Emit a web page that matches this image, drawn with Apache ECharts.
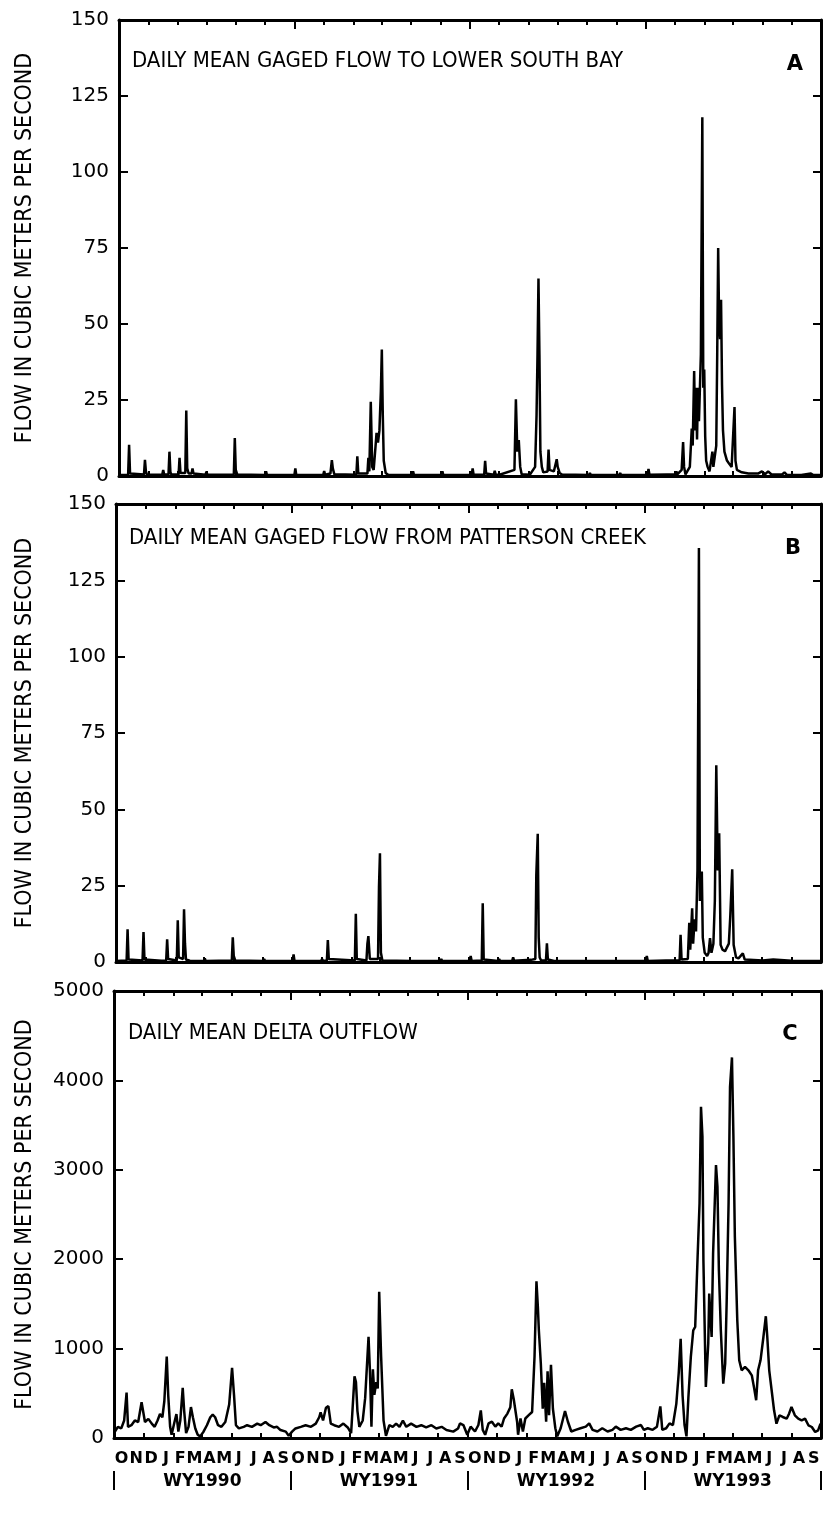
<!DOCTYPE html>
<html><head><meta charset="utf-8">
<script src="https://cdn.jsdelivr.net/npm/echarts@6/dist/echarts.min.js"></script>
<style>html,body{margin:0;padding:0;background:#fff}#c{width:825px;height:1513px}</style>
</head><body><div id="c"></div>
<script>
// ---------- labels ----------
const monthLetters = ['O','N','D','J','F','M','A','M','J','J','A','S'];
const waterYears = ['WY1990','WY1991','WY1992','WY1993'];
const panelTitles = ['DAILY MEAN GAGED FLOW TO LOWER SOUTH BAY','DAILY MEAN GAGED FLOW FROM PATTERSON CREEK','DAILY MEAN DELTA OUTFLOW'];
const panelLetters = ['A','B','C'];
const yTitle = 'FLOW IN CUBIC METERS PER SECOND';
const yTicksAB = [0,25,50,75,100,125,150];
const yTicksC = [0,1000,2000,3000,4000,5000];

// ---------- data: [day since 1 Oct 1989, flow m3/s] ----------
const flowA = [[0,0.3],[19,0.4],[21,10.3],[23,0.8],[25,0.4],
[52,0.5],[54,5.3],[56,1.5],[58,0.5],[90,0.4],[92,2],[94,0.5],
[103,0.5],[105,8],[107,1.2],[109,0.5],[124,0.5],[126,6],[128,1],
[138,1],[140,21.5],[142,2.5],[145,0.8],[151,0.8],[153,2.5],[155,0.8],
[180,0.4],[182,1.4],[184,0.4],[239,0.5],[241,12.5],[243,2],[246,0.5],
[304,0.3],[306,1.5],[308,0.3],[365,0.3],[367,2.5],[369,0.3],
[425,0.3],[427,1.6],[429,0.4],[440,0.8],[443,5.2],[445,2.5],[448,0.6],
[494,0.4],[496,6.5],[498,0.8],
[517,0.8],[519,6],[521,1.5],[524,24.4],[527,3],[530,2],[534,10],[536,14.2],[539,11],[542,15],[545,28],[547,41.6],[549,20],[551,5],[555,1],[560,0.4],
[610,0.3],[612,1.5],[614,0.3],[671,0.3],[673,1.5],[675,0.3],
[734,0.3],[736,2.5],[738,0.4],[760,0.4],[762,5],[764,0.8],
[780,0.4],[782,1.7],[784,0.5],[792,0.4],[794,1],[796,0.4],
[823,2],[826,25.2],[829,8],[832,11.8],[835,3],[838,0.6],
[855,0.4],[857,1],[859,0.4],
[866,3],[869,20],[871,40],[873,65],[875,40],[877,8],[880,3],[883,1.2],
[892,1.5],[894,8.7],[896,2],[905,1.5],[909,1.5],[911,5.5],[913,3],[917,1],[922,0.5],
[978,0.3],[980,1],[982,0.3],[1041,0.3],[1043,1],[1045,0.3],
[1100,0.4],[1102,2.3],[1104,0.4],[1140,0.5],[1158,0.5],[1160,1.5],[1162,0.5],
[1171,2],[1174,11.2],[1176,3],[1179,0.5],
[1188,3],[1192,15.6],[1194,10],[1197,34.5],[1199,15],[1201,29],[1203,12],[1205,29],[1207,18],[1209,29],[1211,40],[1214,118],[1216,29],[1218,35],[1220,13],[1222,5],[1225,3],[1229,1.5],[1232,2],[1235,8],[1237,3],[1240,2.5],
[1243,10],[1245,40],[1247,75],[1249,50],[1251,45],[1253,58],[1255,30],[1257,15],[1260,8],[1265,5.2],[1270,4],[1275,3],[1279,3],[1281,22.7],[1283,5],[1286,2],[1290,1.5],[1296,1.2],
[1310,0.8],[1330,0.8],[1338,1.5],[1345,0.6],[1351,1.5],[1358,0.5],[1380,0.5],[1385,1.2],[1390,0.4],[1420,0.3],[1440,0.8],[1445,0.3],[1461,0.3]];

const flowB = [[0,0.3],[22,0.5],[24,10.7],[26,0.8],[28,0.4],
[55,0.5],[57,9.8],[59,0.8],[94,0.4],[96,1],[98,0.4],
[104,0.5],[106,7.4],[108,1],[126,0.5],[128,13.7],[130,1.5],
[139,1],[141,17.3],[143,6],[145,0.8],[153,0.4],[155,0.8],[157,0.3],
[182,0.3],[184,1.2],[186,0.3],[240,0.5],[242,8.1],[244,2],[247,0.5],
[305,0.3],[307,1],[309,0.3],[366,0.3],[368,2.5],[370,0.3],
[425,0.3],[427,1],[429,0.3],[437,0.5],[439,7.2],[441,1],
[495,0.5],[497,15.8],[499,1],[519,0.5],[521,6],[523,8.5],[526,1],
[543,1],[545,24.7],[547,35.6],[549,3],[552,0.5],
[611,0.3],[613,0.7],[615,0.3],[672,0.3],[674,1],[676,0.3],
[733,0.3],[735,2],[737,0.3],[758,0.5],[760,19.2],[762,0.8],
[792,0.3],[794,1],[796,0.3],[821,0.4],[823,1.5],[825,0.4],
[860,0.7],[869,1],[871,28.5],[874,42],[876,8],[878,1.5],[881,0.5],
[891,0.5],[893,6.1],[895,0.8],[908,0.3],[910,0.8],[912,0.3],
[976,0.3],[978,0.7],[980,0.3],[1038,0.3],[1040,0.7],[1042,0.3],
[1098,0.3],[1100,2],[1102,0.3],[1140,0.5],[1168,0.5],[1170,8.9],[1172,0.8],
[1185,1],[1188,12.8],[1190,4],[1194,17.6],[1196,6],[1199,14],[1202,10],[1205,30],[1208,135.6],[1210,20],[1214,29.6],[1216,8],[1220,3],[1225,2],[1228,3],[1231,7.8],[1234,3],
[1238,6],[1241,20],[1244,64.4],[1247,30],[1250,42.2],[1253,5.6],[1257,4],[1262,3.5],[1266,4],[1270,6],[1273,15],[1277,30.4],[1280,5.6],[1285,1.5],[1290,1.2],[1299,2.8],[1303,0.8],
[1340,0.5],[1362,0.8],[1400,0.4],[1461,0.3]];

const flowC = [[0,54],[8,125],[15,107],[21,196],[26,507],[29,125],[36,143],[43,196],[50,179],[57,400],[60,304],[64,179],[71,214],[78,161],[84,125],[90,196],[95,268],[100,232],[104,411],[109,911],[112,482],[116,125],[119,36],[125,179],[129,268],[133,71],[137,196],[142,561],[145,304],[149,54],[154,125],[159,346],[163,232],[168,107],[173,36],[178,18],[185,71],[192,143],[199,232],[204,261],[209,232],[215,143],[222,125],[230,179],[238,375],[244,786],[248,482],[252,143],[258,107],[268,125],[275,143],[285,125],[296,161],[303,143],[313,179],[321,143],[330,118],[337,125],[344,89],[355,71],[361,25],
[368,71],[375,107],[386,125],[396,143],[407,125],[417,161],[424,232],[427,286],[432,196],[438,339],[443,357],[448,161],[455,143],[465,125],[474,161],[483,118],[490,54],[497,689],[500,625],[503,304],[507,125],[514,196],[519,446],[526,1132],[529,732],[532,125],[535,768],[538,482],[542,625],[545,554],[548,1636],[552,911],[557,196],[562,25],[569,143],[576,125],[583,161],[590,125],[597,196],[604,125],[614,161],[625,125],[635,143],[645,118],[656,143],[666,107],[677,125],[687,89],[701,71],[711,107],[715,164],[722,145],
[730,36],[737,127],[746,73],[753,145],[758,309],[762,91],[767,36],[774,164],[781,182],[788,127],[794,164],[801,127],[806,218],[813,273],[819,345],[822,545],[826,436],[829,455],[833,182],[835,36],[840,218],[845,73],[850,218],[857,255],[864,291],[869,909],[873,1753],[876,1455],[878,1200],[882,836],[886,327],[889,618],[893,182],[896,745],[899,255],[903,818],[907,327],[912,109],[916,18],[923,109],[932,302],[938,182],[945,73],[954,91],[964,109],[975,127],[982,164],[989,91],[999,73],[1009,109],[1020,73],[1030,91],[1037,127],[1047,91],[1058,109],[1068,91],[1079,127],[1089,145],[1095,91],
[1103,109],[1113,91],[1122,127],[1129,353],[1133,91],[1141,109],[1148,164],[1155,145],[1162,382],[1167,727],[1171,1109],[1175,473],[1179,145],[1183,18],[1187,459],[1192,907],[1197,1205],[1201,1242],[1206,2026],[1210,2623],[1213,3705],[1216,3370],[1218,1989],[1221,1130],[1223,571],[1228,1056],[1230,1616],[1235,1130],[1238,2063],[1244,3052],[1247,2810],[1250,1877],[1254,1205],[1259,608],[1263,832],[1266,1504],[1270,2623],[1273,3929],[1277,4257],[1280,3370],[1283,2250],[1288,1317],[1292,869],[1297,757],[1304,795],[1311,757],[1318,701],[1323,552],[1327,422],[1331,757],[1336,869],[1342,1130],[1347,1362],[1350,1130],[1354,757],[1359,534],[1364,310],[1369,160],[1375,254],[1382,235],[1390,216],[1395,272],[1400,347],[1407,254],[1414,216],[1421,198],[1428,216],[1435,142],[1442,123],[1449,67],[1455,86],[1460,160]];

// ---------- time axis helpers ----------
const DAY = 86400000, T0 = Date.UTC(1989, 9, 1);
const monthStarts = [];
for (let m = 0; m <= 48; m++) monthStarts.push((Date.UTC(1989, 9 + m, 1) - T0) / DAY);
const END = monthStarts[48];
const twoMonthTicks = monthStarts.filter((d, i) => i % 2 === 0);
const yearStarts = monthStarts.filter((d, i) => i % 12 === 0);
const monthMids = monthStarts.slice(0, 48).map((d, i) => (d + monthStarts[i + 1]) / 2);
const yearMids = yearStarts.slice(0, 4).map((d, i) => (d + yearStarts[i + 1]) / 2);
function nearestIdx(arr, v){let b=0;for(let i=1;i<arr.length;i++) if(Math.abs(arr[i]-v)<Math.abs(arr[b]-v)) b=i;return b;}

const NARROW = "'Liberation Sans Narrow','DejaVu Sans Condensed','Arial Narrow','Liberation Sans',sans-serif";
const DJ = "'DejaVu Sans','Liberation Sans',sans-serif";
const BLK = '#000';

const grids = [
  {left: 119, top: 20, width: 702, height: 456},
  {left: 116, top: 504, width: 705, height: 458},
  {left: 114, top: 991, width: 707, height: 447}
];
const yMax = [150, 150, 5000], yInt = [25, 25, 1000], nameGaps = [82, 79, 77];
const yTickSets = [yTicksAB, yTicksAB, yTicksC];
const datasets = [flowA, flowB, flowC];

const xAxis = [], yAxis = [], series = [];
grids.forEach((g, gi) => {
  const base = {type: 'value', gridIndex: gi, min: 0, max: END, splitLine: {show: false}};
  const mainIdx = xAxis.length;
  xAxis.push(Object.assign({}, base, {
    position: 'bottom',
    axisLine: {show: true, onZero: false, lineStyle: {color: BLK, width: 3}},
    axisTick: {show: true, inside: true, length: 5, customValues: twoMonthTicks, lineStyle: {color: BLK, width: 2}},
    axisLabel: gi === 2 ? {
      show: true, customValues: monthMids, margin: 13, color: BLK,
      fontFamily: DJ, fontWeight: 'bold', fontSize: 16,
      formatter: v => monthLetters[nearestIdx(monthMids, v) % 12]
    } : {show: false}
  }));
  xAxis.push(Object.assign({}, base, {
    position: 'top',
    axisLine: {show: true, onZero: false, lineStyle: {color: BLK, width: 3}},
    axisTick: {show: true, inside: true, length: 5, customValues: twoMonthTicks, lineStyle: {color: BLK, width: 2}},
    axisLabel: {show: false}
  }));
  xAxis.push(Object.assign({}, base, {
    position: 'top',
    axisLine: {show: false, onZero: false},
    axisTick: {show: true, inside: true, length: 9, customValues: yearStarts, lineStyle: {color: BLK, width: 2}},
    axisLabel: {show: false}
  }));
  if (gi === 2) {
    xAxis.push(Object.assign({}, base, {
      position: 'bottom',
      axisLine: {show: false, onZero: false},
      axisTick: {show: false},
      axisLabel: {show: true, customValues: yearMids, margin: 35, color: BLK,
        fontFamily: DJ, fontWeight: 'bold', fontSize: 17,
        formatter: v => waterYears[nearestIdx(yearMids, v)]}
    }));
    xAxis.push(Object.assign({}, base, {
      position: 'bottom', offset: 33,
      axisLine: {show: false, onZero: false},
      axisTick: {show: true, inside: false, length: 19, customValues: yearStarts, lineStyle: {color: BLK, width: 2}},
      axisLabel: {show: false}
    }));
  }
  const yIdx = yAxis.length;
  yAxis.push({
    type: 'value', gridIndex: gi, position: 'left', min: 0, max: yMax[gi], interval: yInt[gi],
    name: yTitle, nameLocation: 'middle', nameGap: nameGaps[gi],
    nameTextStyle: {fontFamily: NARROW, fontSize: 23, color: BLK},
    axisLine: {show: true, onZero: false, lineStyle: {color: BLK, width: 3}},
    axisTick: {show: true, inside: true, length: 9, customValues: yTickSets[gi], lineStyle: {color: BLK, width: 2}},
    axisLabel: {show: true, margin: 10, color: BLK, fontFamily: DJ, fontSize: 20,
      customValues: yTickSets[gi], formatter: v => String(v)},
    splitLine: {show: false}
  });
  yAxis.push({
    type: 'value', gridIndex: gi, position: 'right', min: 0, max: yMax[gi], interval: yInt[gi],
    axisLine: {show: true, onZero: false, lineStyle: {color: BLK, width: 3}},
    axisTick: {show: true, inside: true, length: 8, customValues: yTickSets[gi], lineStyle: {color: BLK, width: 2}},
    axisLabel: {show: false}, splitLine: {show: false}
  });
  series.push({
    type: 'line', xAxisIndex: mainIdx, yAxisIndex: yIdx, data: datasets[gi],
    showSymbol: false, symbol: 'none', silent: true, animation: false,
    lineStyle: {color: BLK, width: 2.5}
  });
});

const titleY = [61.5, 538.5, 1033];
const titleX = [132, 129, 128];
const letterPos = [[795, 65], [793, 549], [790, 1035]];
const graphic = [];
panelTitles.forEach((t, i) => {
  graphic.push({type: 'text', x: titleX[i], y: titleY[i], silent: true,
    style: {text: t, fill: BLK, font: '22px ' + NARROW, align: 'left', verticalAlign: 'middle'}});
  graphic.push({type: 'text', x: letterPos[i][0], y: letterPos[i][1], silent: true,
    style: {text: panelLetters[i], fill: BLK, font: 'bold 21px ' + DJ, align: 'center', verticalAlign: 'middle'}});
});

const chart = echarts.init(document.getElementById('c'), null, {renderer: 'canvas', width: 825, height: 1513});
chart.setOption({
  backgroundColor: '#fff',
  animation: false,
  grid: grids.map(g => Object.assign({containLabel: false}, g)),
  xAxis, yAxis, series, graphic
});
</script></body></html>
